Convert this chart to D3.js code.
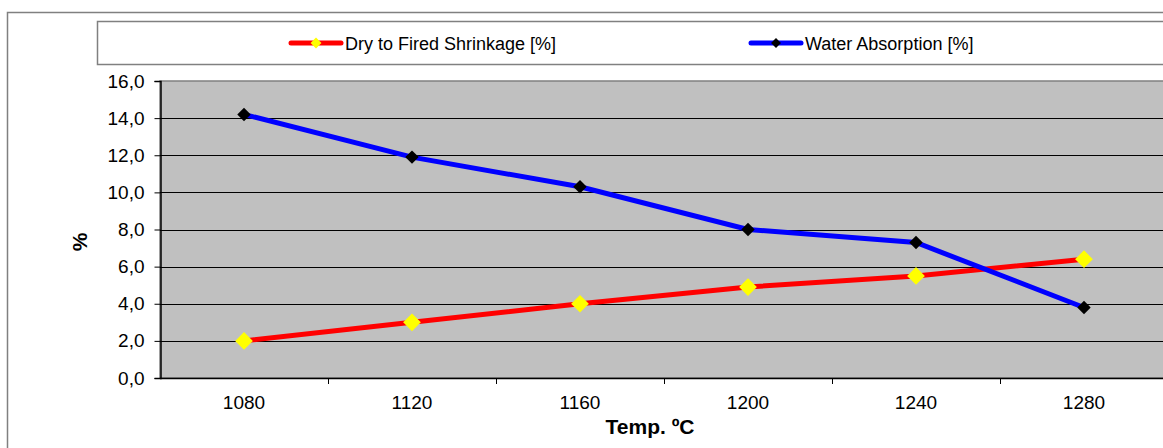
<!DOCTYPE html>
<html lang="en">
  <head>
    <meta charset="UTF-8" />
    <title>Shrinkage and Water Absorption</title>
    <script src="https://cdnjs.cloudflare.com/ajax/libs/d3/7.8.5/d3.min.js"></script>
    <style>
      body {
        margin: 0;
        background: #fff;
      }
      text {
        font-family: "Liberation Sans", Arial, sans-serif;
        fill: #000;
      }
    </style>
  </head>
  <body>
    <div id="chart"></div>
    <script>
      // Chart data
      const temps = ["1080", "1120", "1160", "1200", "1240", "1280"];
      const shrinkage = [2.0, 3.0, 4.0, 4.9, 5.5, 6.4];
      const absorption = [14.2, 11.9, 10.3, 8.0, 7.3, 3.8];
      const yTicks = [0, 2, 4, 6, 8, 10, 12, 14, 16];
      const seriesNames = ["Dry to Fired Shrinkage [%]", "Water Absorption [%]"];

      const width = 1163;
      const height = 448;

      const svg = d3
        .select("#chart")
        .append("svg")
        .attr("width", width)
        .attr("height", height);

      // Outer chart border
      svg
        .append("rect")
        .attr("x", 7.5)
        .attr("y", 12.5)
        .attr("width", 1200)
        .attr("height", 500)
        .attr("fill", "#fff")
        .attr("stroke", "#808080")
        .attr("stroke-width", 1.5);

      // Plot area
      const plot = { left: 160, top: 81, bottom: 378, band: 168 };
      const x = d3
        .scaleBand()
        .domain(temps.concat(["_"]))
        .range([plot.left, plot.left + plot.band * 7]);
      const y = d3.scaleLinear().domain([0, 16]).range([plot.bottom, plot.top]);

      svg
        .append("rect")
        .attr("x", plot.left)
        .attr("y", plot.top)
        .attr("width", 1100)
        .attr("height", plot.bottom - plot.top)
        .attr("fill", "#c0c0c0")
        .attr("stroke", "#808080")
        .attr("stroke-width", 1.5);

      // Gridlines
      svg
        .append("g")
        .selectAll("line")
        .data(yTicks.filter((d) => d > 0 && d < 16))
        .join("line")
        .attr("x1", plot.left)
        .attr("x2", width)
        .attr("y1", (d) => Math.round(y(d)) + 0.5)
        .attr("y2", (d) => Math.round(y(d)) + 0.5)
        .attr("stroke", "#000")
        .attr("stroke-width", 1);

      // Y axis
      const yAxis = svg
        .append("g")
        .attr("transform", `translate(${plot.left + 0.5},0)`)
        .call(
          d3
            .axisLeft(y)
            .tickValues(yTicks)
            .tickSize(6)
            .tickPadding(10)
            .tickFormat((d) => d3.format(".1f")(d).replace(".", ","))
        );
      yAxis.select(".domain").attr("stroke", "#000").attr("stroke-width", 1.5);
      yAxis.selectAll(".tick line").attr("stroke", "#000");
      yAxis
        .selectAll(".tick text")
        .attr("font-size", 19)
        .attr("font-family", "Liberation Sans, Arial, sans-serif");

      // X axis
      svg
        .append("line")
        .attr("x1", plot.left)
        .attr("x2", width)
        .attr("y1", plot.bottom + 0.5)
        .attr("y2", plot.bottom + 0.5)
        .attr("stroke", "#000")
        .attr("stroke-width", 1.5);

      svg
        .append("g")
        .selectAll("line")
        .data(temps)
        .join("line")
        .attr("x1", (d) => x(d) + x.bandwidth() + 0.5)
        .attr("x2", (d) => x(d) + x.bandwidth() + 0.5)
        .attr("y1", plot.bottom)
        .attr("y2", plot.bottom + 6)
        .attr("stroke", "#000");

      svg
        .append("g")
        .selectAll("text")
        .data(temps)
        .join("text")
        .attr("x", (d) => x(d) + x.bandwidth() / 2)
        .attr("y", 409)
        .attr("text-anchor", "middle")
        .attr("font-size", 19)
        .text((d) => d);

      // Axis titles
      svg
        .append("text")
        .attr("x", 650)
        .attr("y", 434)
        .attr("text-anchor", "middle")
        .attr("font-size", 21)
        .attr("font-weight", "bold")
        .text("Temp. ºC");

      svg
        .append("text")
        .attr("transform", "translate(87,242) rotate(-90)")
        .attr("text-anchor", "middle")
        .attr("font-size", 21)
        .attr("font-weight", "bold")
        .text("%");

      // Lines
      const line = d3
        .line()
        .x((d, i) => x(temps[i]) + x.bandwidth() / 2)
        .y((d) => y(d));

      const diamond = d3.symbol().type(d3.symbolDiamond2);

      function drawSeries(values, stroke, markerFill, markerSize) {
        svg
          .append("path")
          .datum(values)
          .attr("fill", "none")
          .attr("stroke", stroke)
          .attr("stroke-width", 5)
          .attr("d", line);
        svg
          .append("g")
          .selectAll("path")
          .data(values)
          .join("path")
          .attr("transform", (d, i) => `translate(${x(temps[i]) + x.bandwidth() / 2},${y(d)})`)
          .attr("d", diamond.size(markerSize))
          .attr("fill", markerFill);
      }

      drawSeries(shrinkage, "#ff0000", "#ffff00", 200);
      drawSeries(absorption, "#0000ff", "#000000", 115);

      // Legend
      svg
        .append("rect")
        .attr("x", 97.5)
        .attr("y", 21.5)
        .attr("width", 1200)
        .attr("height", 43)
        .attr("fill", "#fff")
        .attr("stroke", "#808080")
        .attr("stroke-width", 1.5);

      const legendItems = [
        { name: seriesNames[0], x: 291, stroke: "#ff0000", fill: "#ffff00", size: 75 },
        { name: seriesNames[1], x: 751, stroke: "#0000ff", fill: "#000000", size: 62 },
      ];

      const lg = svg
        .append("g")
        .selectAll("g")
        .data(legendItems)
        .join("g")
        .attr("transform", (d) => `translate(${d.x},43)`);
      lg.append("line")
        .attr("x1", 0)
        .attr("x2", 50)
        .attr("stroke", (d) => d.stroke)
        .attr("stroke-width", 5)
        .attr("stroke-linecap", "round");
      lg.append("path")
        .attr("transform", "translate(25,0)")
        .attr("d", (d) => diamond.size(d.size)())
        .attr("fill", (d) => d.fill);
      lg.append("text")
        .attr("x", 54)
        .attr("y", 7)
        .attr("font-size", 18)
        .text((d) => d.name);
    </script>
  </body>
</html>
